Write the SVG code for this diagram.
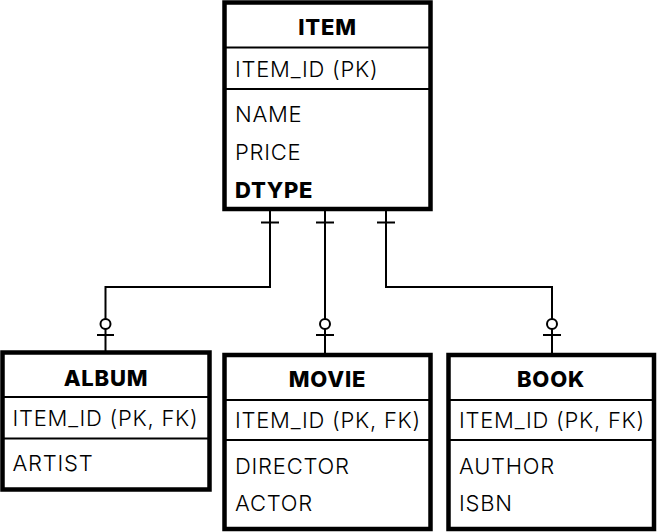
<svg xmlns="http://www.w3.org/2000/svg" width="658" height="532" viewBox="0 0 658 532">
<style>
.box{fill:#fff;stroke:#000;stroke-width:4.5}
.div{stroke:#000;stroke-width:2}
.t{font-family:Inter,"Liberation Sans",sans-serif;font-size:22px;font-weight:300;letter-spacing:0.75px;fill:#000}
.h{font-family:Inter,"Liberation Sans",sans-serif;font-size:22px;font-weight:800;letter-spacing:0.8px;fill:#000;text-anchor:middle}
.b{font-weight:800}
.c{fill:none;stroke:#000;stroke-width:2}
.o{fill:#fff;stroke:#000;stroke-width:2}
</style>
<rect width="658" height="532" fill="#fff"/>
<g id="connectors">
<path class="c" d="M270 210V287H105.5V353"/>
<path class="c" d="M325 210V355"/>
<path class="c" d="M386 210V287H552V355"/>
<path class="c" d="M261 222.5H279M316 222.5H334M377 222.5H395"/>
<path class="c" d="M97 335H114M316 335H334M543 335H561"/>
<circle class="o" cx="105.5" cy="324" r="5"/>
<circle class="o" cx="325" cy="324" r="5"/>
<circle class="o" cx="552" cy="324" r="5"/>
</g>
<g id="item">
<rect class="box" x="224.5" y="2.5" width="206" height="206.5"/>
<line class="div" x1="224.5" y1="47.5" x2="430.5" y2="47.5"/>
<line class="div" x1="224.5" y1="89" x2="430.5" y2="89"/>
<text class="h" x="327.5" y="35">ITEM</text>
<text class="t" x="235" y="77">ITEM_ID (PK)</text>
<text class="t" x="235" y="121.5">NAME</text>
<text class="t" x="235" y="160">PRICE</text>
<text class="t b" x="235" y="198">DTYPE</text>
</g>
<g id="album">
<rect class="box" x="2.5" y="352.5" width="207" height="137"/>
<line class="div" x1="2.5" y1="397" x2="209.5" y2="397"/>
<line class="div" x1="2.5" y1="438.5" x2="209.5" y2="438.5"/>
<text class="h" x="106" y="385.5">ALBUM</text>
<text class="t" x="12.5" y="426">ITEM_ID (PK, FK)</text>
<text class="t" x="12.5" y="470.5">ARTIST</text>
</g>
<g id="movie">
<rect class="box" x="224.5" y="355" width="206" height="174"/>
<line class="div" x1="224.5" y1="400" x2="430.5" y2="400"/>
<line class="div" x1="224.5" y1="440" x2="430.5" y2="440"/>
<text class="h" x="327.5" y="387">MOVIE</text>
<text class="t" x="235" y="428">ITEM_ID (PK, FK)</text>
<text class="t" x="235" y="474">DIRECTOR</text>
<text class="t" x="235" y="511">ACTOR</text>
</g>
<g id="book">
<rect class="box" x="448.5" y="355" width="205.5" height="174"/>
<line class="div" x1="448.5" y1="400" x2="654" y2="400"/>
<line class="div" x1="448.5" y1="440" x2="654" y2="440"/>
<text class="h" x="551" y="387">BOOK</text>
<text class="t" x="459" y="428">ITEM_ID (PK, FK)</text>
<text class="t" x="459" y="474">AUTHOR</text>
<text class="t" x="459" y="511">ISBN</text>
</g>
</svg>
